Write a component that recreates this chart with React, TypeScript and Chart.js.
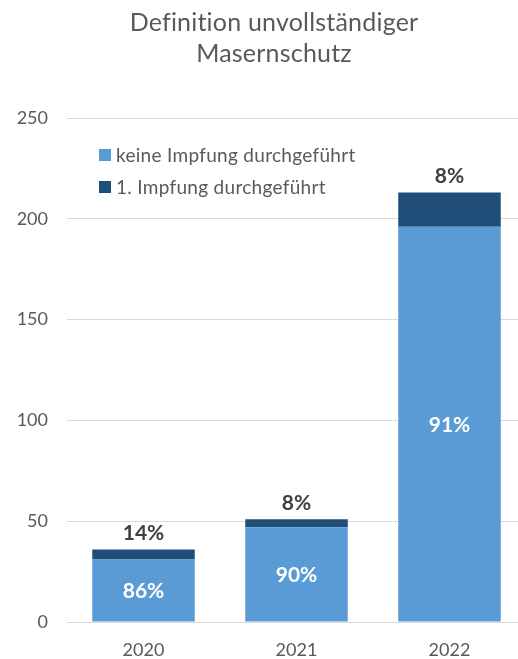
import React, { useEffect, useRef } from "react";
import { Chart, registerables } from "chart.js";

Chart.register(...registerables);

// Jahre und Fallzahlen (gestapelt)
const years = ["2020", "2021", "2022"];
const keineImpfung = [31, 47, 196];
const ersteImpfung = [5, 4, 17];

// Anteile, wie sie an den Balken stehen
const keineImpfungPct = ["86%", "90%", "91%"];
const ersteImpfungPct = ["14%", "8%", "8%"];

const seriesNames = ["keine Impfung durchgeführt", "1. Impfung durchgeführt"];
const seriesColors = ["#5B9BD5", "#1F4E79"];

const titleLines = ["Definition unvollständiger", "Masernschutz"];

const yMax = 250;
const yStep = 50;

const FONT = "Lato, 'Open Sans', sans-serif";
const TEXT = "#595959";

const titlePlugin = {
  id: "zweizeiligerTitel",
  afterDraw(chart: any) {
    const { ctx } = chart;
    ctx.save();
    ctx.fillStyle = TEXT;
    ctx.font = `25px ${FONT}`;
    // tiny spacing keeps "ti" from turning into a ligature
    (ctx as any).letterSpacing = "0.2px";
    ctx.textAlign = "center";
    ctx.textBaseline = "alphabetic";
    titleLines.forEach((line, i) => ctx.fillText(line, 274, 31 + i * 31));
    ctx.restore();
  },
};

const legendPlugin = {
  id: "legendeImDiagramm",
  afterDraw(chart: any) {
    const { ctx } = chart;
    ctx.save();
    ctx.font = `19px ${FONT}`;
    (ctx as any).letterSpacing = "0.3px";
    ctx.textAlign = "left";
    ctx.textBaseline = "alphabetic";
    chart.data.datasets.forEach((ds: any, i: number) => {
      const top = 149 + i * 32;
      ctx.fillStyle = ds.backgroundColor;
      ctx.fillRect(99, top, 12, 12);
      ctx.fillStyle = TEXT;
      ctx.fillText(ds.label, 116, top + 13);
    });
    ctx.restore();
  },
};

const labelPlugin = {
  id: "prozentLabels",
  afterDatasetsDraw(chart: any) {
    const { ctx } = chart;
    ctx.save();
    ctx.font = `bold 21px ${FONT}`;
    ctx.textAlign = "center";
    ctx.textBaseline = "middle";
    const inner = chart.getDatasetMeta(0);
    inner.data.forEach((el: any, i: number) => {
      ctx.fillStyle = "#FFFFFF";
      ctx.fillText(keineImpfungPct[i], el.x, (el.y + el.base) / 2 + 1);
    });
    const outer = chart.getDatasetMeta(1);
    outer.data.forEach((el: any, i: number) => {
      ctx.fillStyle = "#404040";
      ctx.fillText(ersteImpfungPct[i], el.x, el.y - 16);
    });
    ctx.restore();
  },
};

export default function App() {
  const canvasRef = useRef<HTMLCanvasElement | null>(null);

  useEffect(() => {
    document.body.style.margin = "0";
    document.body.style.overflow = "hidden";
    const canvas = canvasRef.current;
    if (!canvas) return;
    const chart = new Chart(canvas, {
      type: "bar",
      data: {
        labels: years,
        datasets: [
          {
            label: seriesNames[0],
            data: keineImpfung,
            backgroundColor: seriesColors[0],
            categoryPercentage: 1,
            barPercentage: 0.67,
          },
          {
            label: seriesNames[1],
            data: ersteImpfung,
            backgroundColor: seriesColors[1],
            categoryPercentage: 1,
            barPercentage: 0.67,
          },
        ],
      },
      options: {
        responsive: false,
        animation: false,
        layout: { padding: { top: 118, right: 4, bottom: 0, left: 0 } },
        plugins: {
          legend: { display: false },
          title: { display: false },
          tooltip: { enabled: false },
        },
        scales: {
          x: {
            stacked: true,
            afterFit(scale: any) {
              scale.height = 37;
            },
            grid: { display: false, drawTicks: false },
            border: { display: true, color: "#D9D9D9", width: 1 },
            ticks: {
              color: TEXT,
              padding: 19,
              font: { family: FONT, size: 18, lineHeight: 1 },
            },
          },
          y: {
            stacked: true,
            min: 0,
            max: yMax,
            afterFit(scale: any) {
              scale.width = 67;
            },
            grid: { color: "#D9D9D9", lineWidth: 1, drawTicks: false },
            border: { display: false },
            ticks: {
              stepSize: yStep,
              color: TEXT,
              padding: 19,
              font: { family: FONT, size: 18 },
            },
          },
        },
      },
      plugins: [labelPlugin, legendPlugin, titlePlugin],
    });
    return () => chart.destroy();
  }, []);

  return (
    <div style={{ width: 518, height: 659, overflow: "hidden", background: "#fff" }}>
      <canvas ref={canvasRef} width={530} height={659} style={{ display: "block" }} />
    </div>
  );
}
